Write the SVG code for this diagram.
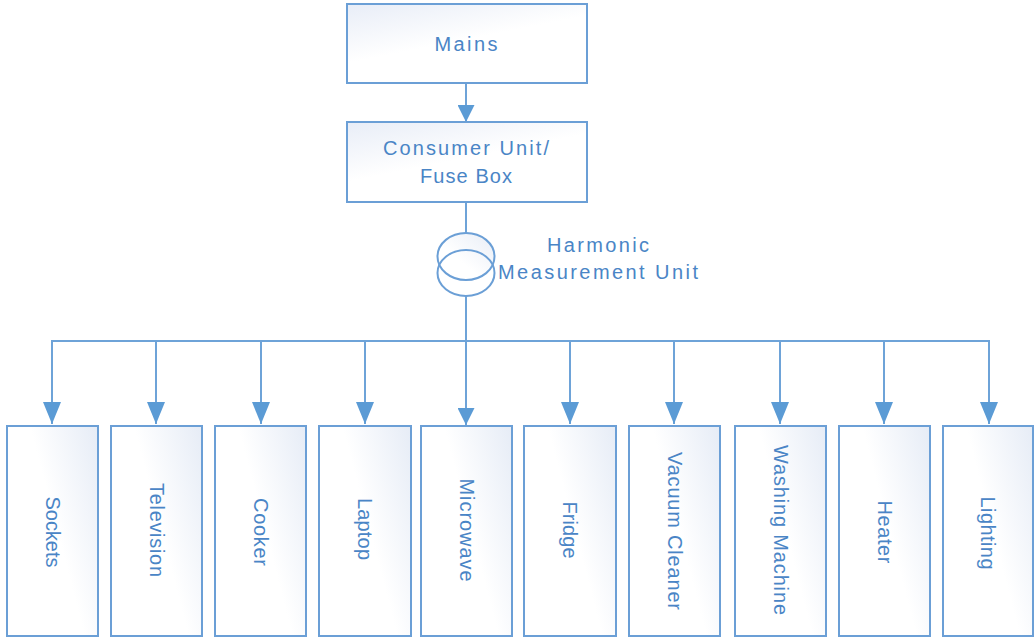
<svg xmlns="http://www.w3.org/2000/svg" width="1034" height="639" viewBox="0 0 1034 639">
  <defs>
    <linearGradient id="gTop" x1="0" y1="0" x2="0.6" y2="1">
      <stop offset="0" stop-color="#e8edf7"/>
      <stop offset="0.55" stop-color="#ffffff"/>
    </linearGradient>
    <linearGradient id="gDev" x1="1" y1="0" x2="0" y2="0.6">
      <stop offset="0" stop-color="#e6ecf6"/>
      <stop offset="0.55" stop-color="#ffffff"/>
    </linearGradient>
    <linearGradient id="gCirc" x1="1" y1="0" x2="0" y2="1">
      <stop offset="0" stop-color="#e8edf6"/>
      <stop offset="0.6" stop-color="#ffffff"/>
    </linearGradient>
    <marker id="arr" viewBox="0 0 22 18" refX="22" refY="9" markerWidth="22" markerHeight="18" markerUnits="userSpaceOnUse" orient="auto">
      <path d="M0,0 L22,9 L0,18 Z" fill="#5b9bd5"/>
    </marker>
    <marker id="arrS" viewBox="0 0 17 17" refX="17" refY="8.5" markerWidth="17" markerHeight="17" markerUnits="userSpaceOnUse" orient="auto">
      <path d="M0,0 L17,8.5 L0,17 Z" fill="#5b9bd5"/>
    </marker>
  </defs>
  <style>
    .box { stroke: #6b9fd6; stroke-width: 2; }
    .top { fill: url(#gTop); }
    .dev { fill: url(#gDev); }
    .ln { fill: none; stroke: #6ea3d8; stroke-width: 2; }
    .t { font-family: "Liberation Sans", Arial, sans-serif; font-size: 20px; fill: #4a85c6; text-anchor: middle; dominant-baseline: central; }
  </style>

  <g id="connectors">
    <line class="ln" x1="466" y1="83" x2="466" y2="122" marker-end="url(#arrS)"/>
    <line class="ln" x1="466" y1="202" x2="466" y2="233"/>
    <line class="ln" x1="466" y1="296" x2="466" y2="425" marker-end="url(#arrS)"/>
    <polyline class="ln" points="52,424 52,341 989,341 989,424" marker-end="url(#arr)"/>
    <line class="ln" x1="52" y1="341" x2="52" y2="424" marker-end="url(#arr)"/>
    <line class="ln" x1="156" y1="341" x2="156" y2="424" marker-end="url(#arr)"/>
    <line class="ln" x1="261" y1="341" x2="261" y2="424" marker-end="url(#arr)"/>
    <line class="ln" x1="365" y1="341" x2="365" y2="424" marker-end="url(#arr)"/>
    <line class="ln" x1="570" y1="341" x2="570" y2="424" marker-end="url(#arr)"/>
    <line class="ln" x1="674" y1="341" x2="674" y2="424" marker-end="url(#arr)"/>
    <line class="ln" x1="780" y1="341" x2="780" y2="424" marker-end="url(#arr)"/>
    <line class="ln" x1="884" y1="341" x2="884" y2="424" marker-end="url(#arr)"/>
  </g>

  <g id="mains">
    <rect class="box top" x="347" y="4" width="240" height="79"/>
    <text class="t" x="466" y="44" textLength="63" lengthAdjust="spacing">Mains</text>
  </g>

  <g id="consumer-unit">
    <rect class="box top" x="347" y="122" width="240" height="80"/>
    <text class="t" x="466" y="148" textLength="166" lengthAdjust="spacing">Consumer Unit/</text>
    <text class="t" x="466" y="176" textLength="92" lengthAdjust="spacing">Fuse Box</text>
  </g>

  <g id="harmonic-measurement-unit">
    <ellipse cx="466" cy="256.5" rx="28.5" ry="23.5" fill="url(#gCirc)" stroke="#6b9fd6" stroke-width="2"/>
    <ellipse cx="466" cy="273" rx="28.5" ry="23" fill="none" stroke="#6b9fd6" stroke-width="2"/>
    <text class="t" x="598" y="245" textLength="102" lengthAdjust="spacing">Harmonic</text>
    <text class="t" x="598" y="272" textLength="200" lengthAdjust="spacing">Measurement Unit</text>
  </g>

  <g id="sockets">
    <rect class="box dev" x="7" y="426" width="91" height="210"/>
    <text class="t" transform="translate(52.5,532) rotate(90)" textLength="71" lengthAdjust="spacing">Sockets</text>
  </g>
  <g id="television">
    <rect class="box dev" x="111" y="426" width="91" height="210"/>
    <text class="t" transform="translate(156.5,530) rotate(90)" textLength="94" lengthAdjust="spacing">Television</text>
  </g>
  <g id="cooker">
    <rect class="box dev" x="215" y="426" width="91" height="210"/>
    <text class="t" transform="translate(260.5,532) rotate(90)" textLength="68" lengthAdjust="spacing">Cooker</text>
  </g>
  <g id="laptop">
    <rect class="box dev" x="319" y="426" width="92" height="210"/>
    <text class="t" transform="translate(365,529) rotate(90)" textLength="62" lengthAdjust="spacing">Laptop</text>
  </g>
  <g id="microwave">
    <rect class="box dev" x="421" y="426" width="91" height="210"/>
    <text class="t" transform="translate(466.5,530) rotate(90)" textLength="103" lengthAdjust="spacing">Microwave</text>
  </g>
  <g id="fridge">
    <rect class="box dev" x="524" y="426" width="92" height="210"/>
    <text class="t" transform="translate(570,530) rotate(90)" textLength="57" lengthAdjust="spacing">Fridge</text>
  </g>
  <g id="vacuum-cleaner">
    <rect class="box dev" x="629" y="426" width="91" height="210"/>
    <text class="t" transform="translate(674.5,531) rotate(90)" textLength="158" lengthAdjust="spacing">Vacuum Cleaner</text>
  </g>
  <g id="washing-machine">
    <rect class="box dev" x="735" y="426" width="91" height="210"/>
    <text class="t" transform="translate(780.5,530) rotate(90)" textLength="170" lengthAdjust="spacing">Washing Machine</text>
  </g>
  <g id="heater">
    <rect class="box dev" x="839" y="426" width="91" height="210"/>
    <text class="t" transform="translate(884.5,532) rotate(90)" textLength="63" lengthAdjust="spacing">Heater</text>
  </g>
  <g id="lighting">
    <rect class="box dev" x="943" y="426" width="90" height="210"/>
    <text class="t" transform="translate(988,533) rotate(90)" textLength="73" lengthAdjust="spacing">Lighting</text>
  </g>
</svg>
